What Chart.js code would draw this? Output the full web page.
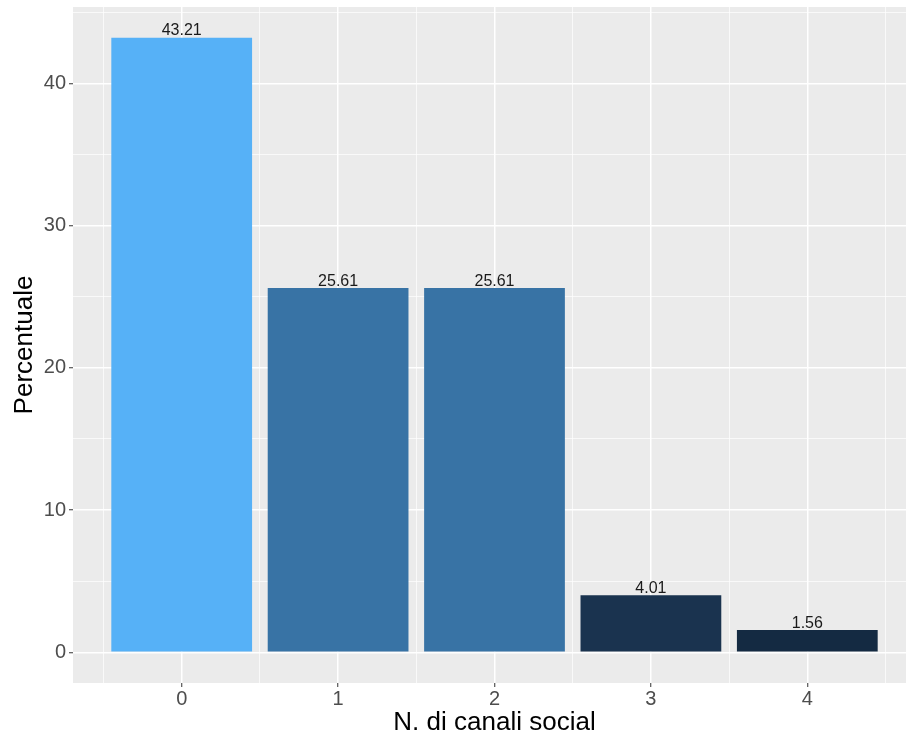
<!DOCTYPE html>
<html>
<head>
  <title>N. di canali social</title>
  <script src="https://cdn.jsdelivr.net/npm/chart.js"></script>
  <style>
    html, body { margin: 0; background: #fff; overflow: hidden; }
    /* the original panel runs a few pixels past the right edge of the picture */
    #wrap { width: 916px; height: 737px; position: relative; }
  </style>
</head>
<body>
  <div id="wrap"><canvas id="chart"></canvas></div>

  <script>
    // data
    const categories = [0, 1, 2, 3, 4];
    const percentages = [43.21, 25.61, 25.61, 4.01, 1.56];
    const barColors = ['#56B1F7', '#3873A5', '#3873A5', '#1A334F', '#142A42'];

    const xTicks = [0, 1, 2, 3, 4];
    const xMinor = [-0.5, 0.5, 1.5, 2.5, 3.5, 4.5];
    const yTicks = [0, 10, 20, 30, 40];
    const yMinor = [5, 15, 25, 35, 45];

    // ggplot-like 5% expansion around the data range
    const xMin = -0.45 - 0.245, xMax = 4.45 + 0.245;
    const yMin = -0.05 * 43.21, yMax = 43.21 * 1.05;

    const setTicks = vals => scale => { scale.ticks = vals.map(v => ({ value: v })); };

    // fixed box sizes, and no extra room asked for the end labels
    const fitX = h => s => { s.height = h; s.paddingLeft = 0; s.paddingRight = 0; };
    const fitY = w => s => { s.width = w; s.paddingTop = 0; s.paddingBottom = 0; };

    const panelBg = {
      id: 'panelBg',
      beforeDraw(chart) {
        const { ctx, chartArea: a } = chart;
        ctx.save();
        ctx.fillStyle = '#EBEBEB';
        ctx.fillRect(a.left, a.top, a.right - a.left, a.bottom - a.top);
        ctx.restore();
      }
    };

    const barLabels = {
      id: 'barLabels',
      afterDatasetsDraw(chart) {
        const ctx = chart.ctx;
        const meta = chart.getDatasetMeta(0);
        ctx.save();
        ctx.font = '16px "Liberation Sans", Arial, sans-serif';
        ctx.fillStyle = '#1a1a1a';
        ctx.textAlign = 'center';
        ctx.textBaseline = 'alphabetic';
        meta.data.forEach((bar, i) => {
          ctx.fillText(percentages[i].toFixed(2), bar.x, bar.y - 2.5);
        });
        ctx.restore();
      }
    };

    new Chart(document.getElementById('chart'), {
      type: 'bar',
      data: {
        datasets: [{
          data: categories.map((c, i) => ({ x: c, y: percentages[i] })),
          backgroundColor: barColors,
          borderWidth: 0,
          barPercentage: 0.9,
          categoryPercentage: 1.0
        }]
      },
      options: {
        responsive: true,
        maintainAspectRatio: false,
        animation: false,
        layout: { padding: { top: 7, right: 0, left: 0, bottom: 0 } },
        plugins: {
          legend: { display: false },
          tooltip: { enabled: false }
        },
        scales: {
          x: {
            type: 'linear',
            position: 'bottom',
            min: xMin,
            max: xMax,
            offset: false,
            afterBuildTicks: setTicks(xTicks),
            afterFit: fitX(54),
            grid: {
              offset: false,
              color: '#FFFFFF',
              lineWidth: 1.5,
              tickColor: '#333333',
              tickLength: 4,
              tickWidth: 1
            },
            border: { display: false },
            ticks: {
              padding: 0,
              color: '#4D4D4D',
              font: { family: '"Liberation Sans", Arial, sans-serif', size: 20 },
              maxRotation: 0
            },
            title: {
              display: true,
              text: 'N. di canali social',
              color: '#000000',
              font: { family: '"Liberation Sans", Arial, sans-serif', size: 26, lineHeight: 1 },
              padding: { top: 0, bottom: 1 }
            }
          },
          x2: {
            type: 'linear',
            position: 'bottom',
            min: xMin,
            max: xMax,
            offset: false,
            afterBuildTicks: setTicks(xMinor),
            afterFit: fitX(0),
            grid: { offset: false, color: '#FFFFFF', lineWidth: 0.7, drawTicks: false },
            border: { display: false },
            ticks: { display: false }
          },
          y: {
            type: 'linear',
            position: 'left',
            min: yMin,
            max: yMax,
            afterBuildTicks: setTicks(yTicks),
            afterFit: fitY(73),
            grid: {
              color: '#FFFFFF',
              lineWidth: 1.5,
              tickColor: '#333333',
              tickLength: 4,
              tickWidth: 1
            },
            border: { display: false },
            ticks: {
              padding: 3,
              color: '#4D4D4D',
              font: { family: '"Liberation Sans", Arial, sans-serif', size: 20 }
            },
            title: {
              display: true,
              text: 'Percentuale',
              color: '#000000',
              font: { family: '"Liberation Sans", Arial, sans-serif', size: 26, lineHeight: 1 },
              padding: { top: 12, bottom: 0 }
            }
          },
          y2: {
            type: 'linear',
            position: 'left',
            min: yMin,
            max: yMax,
            afterBuildTicks: setTicks(yMinor),
            afterFit: fitY(0),
            grid: { color: '#FFFFFF', lineWidth: 0.7, drawTicks: false },
            border: { display: false },
            ticks: { display: false }
          }
        }
      },
      plugins: [panelBg, barLabels]
    });
  </script>
</body>
</html>
